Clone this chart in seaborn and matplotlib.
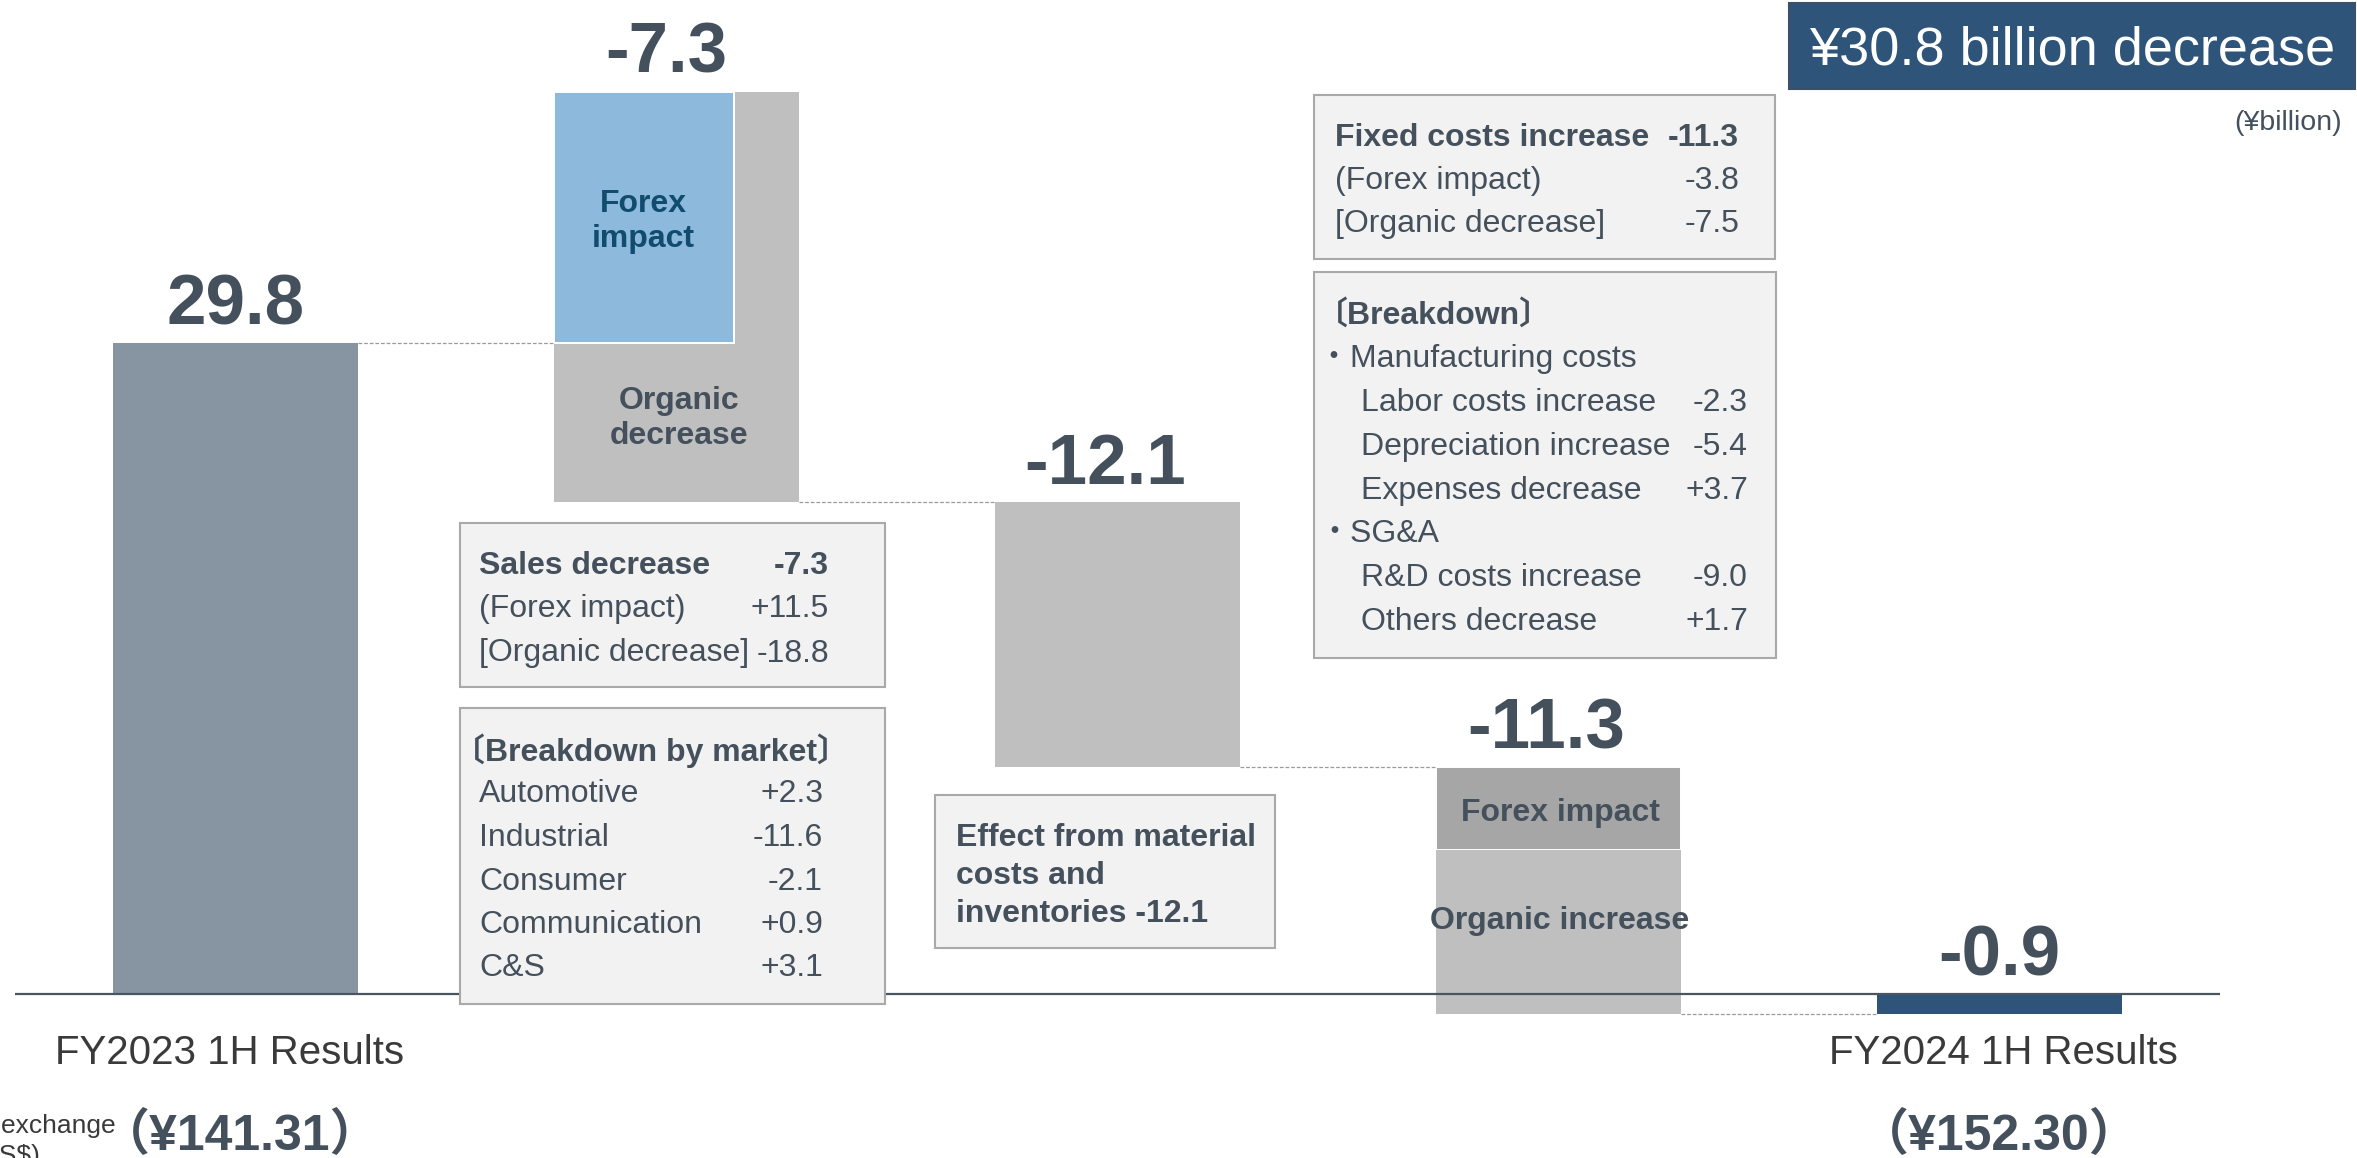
import numpy as np
import pandas as pd
import matplotlib
matplotlib.use("Agg")
import matplotlib.pyplot as plt
from matplotlib.patches import Rectangle
import seaborn as sns

# ---------------- data ----------------
categories = ["FY2023 1H Results", "Sales decrease", "Material costs and inventories",
              "Fixed costs increase", "FY2024 1H Results"]
fy2023_profit = 29.8
sales_forex = 11.5
sales_organic = -18.8
material_effect = -12.1
fixed_forex = -3.8
fixed_organic = -7.5
fy2024_profit = -0.9
value_labels = ["29.8", "-7.3", "-12.1", "-11.3", "-0.9"]

sales_rows = ["Sales decrease", "(Forex impact)", "[Organic decrease]"]
sales_values = ["-7.3", "+11.5", "-18.8"]
market_names = ["Automotive", "Industrial", "Consumer", "Communication", "C&S"]
market_values = ["+2.3", "-11.6", "-2.1", "+0.9", "+3.1"]
fixed_rows = ["Fixed costs increase", "(Forex impact)", "[Organic decrease]"]
fixed_values = ["-11.3", "-3.8", "-7.5"]
breakdown_items = ["・Manufacturing costs", "Labor costs increase", "Depreciation increase",
                   "Expenses decrease", "・SG&A", "R&D costs increase", "Others decrease"]
breakdown_values = ["", "-2.3", "-5.4", "+3.7", "", "-9.0", "+1.7"]
material_text = ["Effect from material", "costs and", "inventories -12.1"]
fx_rates = ["（¥141.31）", "（¥152.30）"]
headline = "¥30.8 billion decrease"
unit_label = "(¥billion)"

# ---------------- style ----------------
sns.set_style("white")
FAM = ["Liberation Sans", "Noto Sans CJK JP", "DejaVu Sans"]
plt.rcParams["font.family"] = FAM

TXT = "#44505c"
C_START = "#8795a2"
C_FOREX = "#8db9dc"
C_GRAY = "#bfbfbf"
C_DGRAY = "#a6a6a6"
C_NAVY = "#2e5479"
BOX_FC = "#f2f2f2"
BOX_EC = "#a9a9a9"

W_PX, H_PX = 2357, 1158
fig = plt.figure(figsize=(W_PX / 100, H_PX / 100), dpi=100)
ax = fig.add_axes([15 / W_PX, 0, (2220 - 15) / W_PX, 1])

# ---------------- waterfall levels ----------------
lvl0 = fy2023_profit
lvl_fx_top = lvl0 + sales_forex
lvl1 = lvl_fx_top + sales_organic
lvl2 = lvl1 + material_effect
lvl_fx = lvl2 + fixed_forex
lvl3 = lvl_fx + fixed_organic

BW = 0.555   # main bar width
FW = 0.408   # sales forex bar width

segments = pd.DataFrame({
    "category": [categories[0], categories[1], categories[1], categories[2],
                 categories[3], categories[3], categories[4]],
    "bottom": [0, lvl1, lvl0, lvl2, lvl_fx, lvl3, 0],
    "height": [fy2023_profit, -sales_organic, sales_forex, -material_effect,
               -fixed_forex, -fixed_organic, fy2024_profit],
    "color": [C_START, C_GRAY, C_FOREX, C_GRAY, C_DGRAY, C_GRAY, C_NAVY],
    "width": [BW, BW, FW, BW, BW, BW, BW],
    "edge": ["none", "none", "white", "none", "white", "none", "none"],
})

for _, row in segments.iterrows():
    before = len(ax.patches)
    sns.barplot(x=[row["category"]], y=[row["height"]], order=categories,
                color=row["color"], width=row["width"], saturation=1,
                errorbar=None, bottom=row["bottom"], ax=ax,
                edgecolor=row["edge"], linewidth=1.4 if row["edge"] != "none" else 0)
    if row["width"] < BW:
        for p in ax.patches[before:]:
            p.set_x(p.get_x() - (BW - row["width"]) / 2)

ax.set_xlim(-0.5, 4.5)
ax.set_ylim(-(H_PX - 994) / 21.85, 994 / 21.85)
ax.set_axis_off()

# connectors
conn_levels = [lvl0, lvl1, lvl2, lvl3]
xs0 = [i + BW / 2 for i in range(4)]
xs1 = [i + 1 - BW / 2 for i in range(4)]
ax.hlines(conn_levels, xs0, xs1, colors="#9a9a9a", linestyles=(0, (3, 1.5)),
          linewidth=0.9, zorder=1)

# baseline
ax.axhline(0, color="#4a5562", lw=1.6, zorder=4)

# value labels
tops = [lvl0, lvl_fx_top, lvl1, lvl2, 0]
dxs = [0, -7, -9, -9, 0]
for i, (lab, top, dx) in enumerate(zip(value_labels, tops, dxs)):
    ax.annotate(lab, xy=(i, top), xytext=(dx, 13.5), textcoords="offset points",
                ha="center", va="baseline", fontsize=51, fontweight="bold",
                color=TXT, zorder=6)

# ---------------- helpers in pixel space ----------------
def fx(x):
    return x / W_PX

def fy(y):
    return 1 - y / H_PX

def box(x0, y0, x1, y1, fc=BOX_FC, ec=BOX_EC, lw=1.5):
    fig.add_artist(Rectangle((fx(x0), fy(y1)), fx(x1) - fx(x0), fy(y0) - fy(y1),
                             transform=fig.transFigure, facecolor=fc, edgecolor=ec,
                             linewidth=lw, zorder=1))

def txt(x, y, s, size=23, weight="normal", ha="left", va="center", color=TXT):
    if va == "center":
        y = y + 3.5
    fig.text(fx(x), fy(y), s, fontsize=size, fontweight=weight, ha=ha, va=va,
             color=color, family=FAM, zorder=5)

# labels inside bars
txt(643, 201, "Forex", weight="bold", ha="center", color="#0f4c6e")
txt(643, 235, "impact", weight="bold", ha="center", color="#0f4c6e")
txt(679, 398, "Organic", weight="bold", ha="center")
txt(679, 433, "decrease", weight="bold", ha="center")
txt(1560, 809, "Forex impact", weight="bold", ha="center")
txt(1560, 918, "Organic increase", weight="bold", ha="center")

# sales box
box(460, 523, 885, 687)
for k, (name, val) in enumerate(zip(sales_rows, sales_values)):
    w = "bold" if k == 0 else "normal"
    y = 562 + k * 44
    txt(479, y, name, weight=w)
    txt(829, y, val, weight=w, ha="right")

# market box
box(460, 708, 885, 1004)
txt(453, 747, "〔Breakdown by market〕", weight="bold")
for k, (name, val) in enumerate(zip(market_names, market_values)):
    y = 791 + k * 43.5
    txt(479, y, name)
    txt(823, y, val, ha="right")

# material box
box(935, 795, 1275, 948)
for k, line in enumerate(material_text):
    txt(956, 834 + k * 38.5, line, weight="bold")

# fixed box
box(1314, 95, 1775, 259)
for k, (name, val) in enumerate(zip(fixed_rows, fixed_values)):
    w = "bold" if k == 0 else "normal"
    y = 134 + k * 43.5
    txt(1335, y, name, weight=w)
    txt(1739, y, val, weight=w, ha="right")

# breakdown box
box(1314, 272, 1776, 658)
txt(1316, 312, "〔Breakdown〕", weight="bold")
for k, (name, val) in enumerate(zip(breakdown_items, breakdown_values)):
    y = 356 + k * 43.7
    x = 1318 if name.startswith("・") else 1361
    txt(x, y, name)
    if val:
        txt(1748, y, val, ha="right")

# headline box
box(1789, 3, 2355, 89, fc=C_NAVY, ec="#3d5066", lw=1.5)
txt(2072, 47, headline, size=39, ha="center", color="white")
txt(2342, 119, unit_label, size=20.5, ha="right")

# category labels
txt(230, 1050, categories[0], size=29, ha="center", color="#3a3a3a")
txt(2003, 1050, categories[4], size=29, ha="center", color="#3a3a3a")
txt(240, 1150, fx_rates[0], size=36, weight="bold", ha="center", va="baseline")
txt(1999, 1150, fx_rates[1], size=36, weight="bold", ha="center", va="baseline")
txt(116, 1122, "(Average exchange", size=19, ha="right", color="#3a3a3a")
txt(40, 1152, "(US$)", size=19, ha="right", color="#3a3a3a")

fig.savefig("out.png", dpi=100)
